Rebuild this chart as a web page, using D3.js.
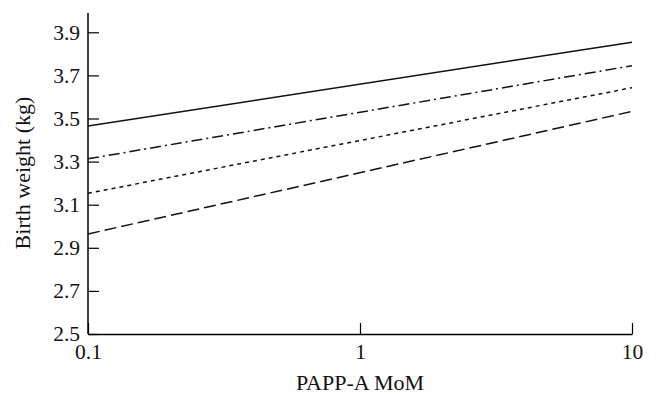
<!DOCTYPE html>
<html>
<head>
<meta charset="utf-8">
<script src="https://cdn.jsdelivr.net/npm/d3@7"></script>
<style>
  body { margin: 0; background: #fff; }
  svg text { font-family: "Liberation Serif", "Times New Roman", serif; fill: #111; }
</style>
</head>
<body>
<div id="chart"></div>
<script>
// Data: straight lines on a log x axis
const xPoints = [0.1, 10];
const solidLine = [3.465, 3.854];
const dashDotLine = [3.313, 3.745];
const dottedLine = [3.153, 3.643];
const dashedLine = [2.964, 3.533];
const yTicks = [2.5, 2.7, 2.9, 3.1, 3.3, 3.5, 3.7, 3.9];
const xTicks = [0.1, 1, 10];

const series = [
  {values: solidLine, dash: null},
  {values: dashDotLine, dash: "11,4,2,4"},
  {values: dottedLine, dash: "4,4"},
  {values: dashedLine, dash: "12,5"}
];

const totalWidth = 658, totalHeight = 394;
const margin = {top: 12, right: 26, bottom: 60, left: 88};
const width = totalWidth - margin.left - margin.right;
const height = totalHeight - margin.top - margin.bottom;
const fontSize = "21.5px";
const titleSize = "22px";

const svg = d3.select("#chart")
  .append("svg")
  .attr("width", totalWidth)
  .attr("height", totalHeight)
  .append("g")
  .attr("transform", `translate(${margin.left},${margin.top})`);

const x = d3.scaleLog()
  .domain([0.1, 10])
  .range([0, width]);

const y = d3.scaleLinear()
  .domain([2.5, 3.9])
  .range([height, height - 301.7]);

// y axis extends a little above the top tick
const yTop = y(3.99);

// x axis
const xAxis = svg.append("g")
  .attr("transform", `translate(0,${height})`)
  .call(d3.axisBottom(x).tickValues(xTicks).tickSize(-11).tickSizeOuter(0)
    .tickFormat(d3.format("")));
xAxis.select(".domain").attr("stroke-width", 1.5);
xAxis.selectAll(".tick line").attr("stroke-width", 1.2);
xAxis.selectAll(".tick text")
  .attr("y", 25)
  .attr("dy", null)
  .attr("font-family", "Liberation Serif")
  .style("font-size", fontSize);

// y axis
const yAxis = svg.append("g")
  .call(d3.axisLeft(y).tickValues(yTicks).tickSize(-11).tickSizeOuter(0)
    .tickFormat(d3.format(".1f")));
yAxis.select(".domain")
  .attr("d", `M0,${height}V${yTop}`)
  .attr("stroke-width", 1.5);
yAxis.selectAll(".tick line").attr("stroke-width", 1.2);
yAxis.selectAll(".tick text")
  .attr("x", -8)
  .attr("font-family", "Liberation Serif")
  .style("font-size", fontSize);

// axis titles
svg.append("text")
  .attr("x", width / 2)
  .attr("y", height + 56)
  .attr("text-anchor", "middle")
  .style("font-size", titleSize)
  .text("PAPP-A MoM");

svg.append("text")
  .attr("transform", "rotate(-90)")
  .attr("x", -(173 - margin.top))
  .attr("y", -margin.left + 30)
  .attr("text-anchor", "middle")
  .style("font-size", titleSize)
  .text("Birth weight (kg)");

// lines
const line = d3.line()
  .x((d, i) => x(xPoints[i]))
  .y(d => y(d));

series.forEach(s => {
  svg.append("path")
    .datum(s.values)
    .attr("fill", "none")
    .attr("stroke", "#111")
    .attr("stroke-width", 1.5)
    .attr("stroke-dasharray", s.dash)
    .attr("d", line);
});
</script>
</body>
</html>
